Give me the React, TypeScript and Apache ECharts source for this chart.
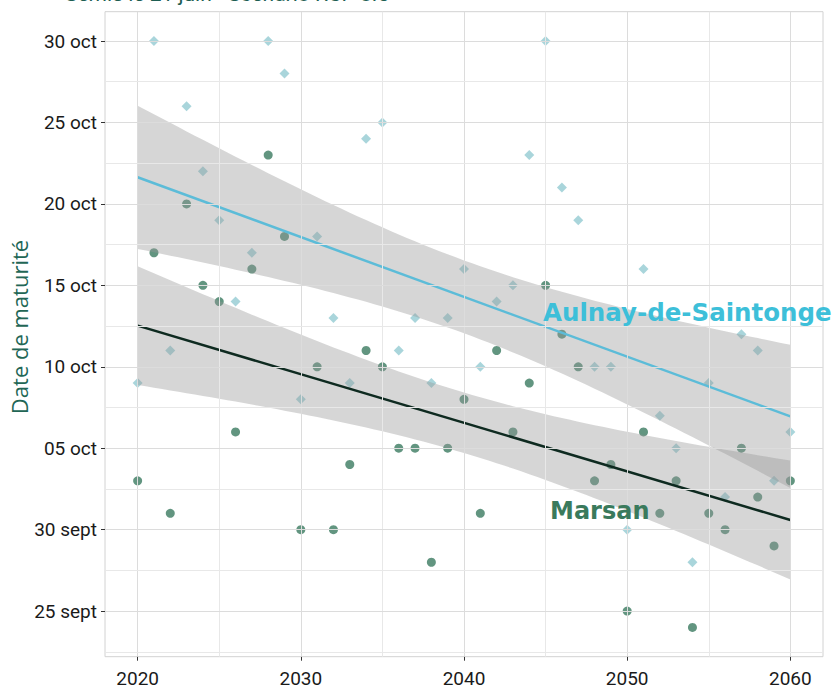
import React, { useEffect, useRef } from "react";
import * as echarts from "echarts";

const years = [
  2020, 2021, 2022, 2023, 2024, 2025, 2026, 2027, 2028, 2029,
  2030, 2031, 2032, 2033, 2034, 2035, 2036, 2037, 2038, 2039,
  2040, 2041, 2042, 2043, 2044, 2045, 2046, 2047, 2048, 2049,
  2050, 2051, 2052, 2053, 2054, 2055, 2056, 2057, 2058, 2059,
  2060,
];

// day number counted from 1 September (30 = 30 sept, 35 = 05 oct, ...)
const aulnay = [
  39, 60, 41, 56, 52, 49, 44, 47, 60, 58,
  38, 48, 43, 39, 54, 55, 41, 43, 39, 43,
  46, 40, 44, 45, 53, 60, 51, 49, 40, 40,
  30, 46, 37, 35, 28, 39, 32, 42, 41, 33,
  36,
];

const marsan = [
  33, 47, 31, 50, 45, 44, 36, 46, 53, 48,
  30, 40, 30, 34, 41, 40, 35, 35, 28, 35,
  38, 31, 41, 36, 39, 45, 42, 40, 33, 34,
  25, 36, 31, 33, 24, 31, 30, 35, 32, 29,
  33,
];

const yTicks = [25, 30, 35, 40, 45, 50, 55, 60];
const yTickLabels = ["25 sept", "30 sept", "05 oct", "10 oct", "15 oct", "20 oct", "25 oct", "30 oct"];
const yMinor = [22.5, 27.5, 32.5, 37.5, 42.5, 47.5, 52.5, 57.5];
const xTicks = [2020, 2030, 2040, 2050, 2060];
const xMinor = [2025, 2035, 2045, 2055];

const T_975 = 2.0227; // Student t quantile, 39 df (95% CI, like geom_smooth)

function linearFit(xs: number[], ys: number[]) {
  const n = xs.length;
  const mx = xs.reduce((a, b) => a + b, 0) / n;
  const my = ys.reduce((a, b) => a + b, 0) / n;
  let sxx = 0;
  let sxy = 0;
  for (let i = 0; i < n; i++) {
    sxx += (xs[i] - mx) * (xs[i] - mx);
    sxy += (xs[i] - mx) * (ys[i] - my);
  }
  const b = sxy / sxx;
  const a = my - b * mx;
  let sse = 0;
  for (let i = 0; i < n; i++) {
    const r = ys[i] - (a + b * xs[i]);
    sse += r * r;
  }
  const s = Math.sqrt(sse / (n - 2));
  const x0 = Math.min(...xs);
  const x1 = Math.max(...xs);
  const upper: number[][] = [];
  const lower: number[][] = [];
  const steps = 80;
  for (let k = 0; k <= steps; k++) {
    const x = x0 + ((x1 - x0) * k) / steps;
    const yh = a + b * x;
    const hw = T_975 * s * Math.sqrt(1 / n + ((x - mx) * (x - mx)) / sxx);
    upper.push([x, yh + hw]);
    lower.push([x, yh - hw]);
  }
  return {
    line: [
      [x0, a + b * x0],
      [x1, a + b * x1],
    ],
    upper,
    lower,
  };
}

const fitA = linearFit(years, aulnay);
const fitM = linearFit(years, marsan);

function bandSeries(fit: { upper: number[][]; lower: number[][] }) {
  return {
    type: "custom",
    z: 2,
    silent: true,
    data: [[2040, 40]],
    renderItem: (_params: any, api: any) => {
      const pts = fit.upper
        .map((p) => api.coord(p))
        .concat(fit.lower.slice().reverse().map((p) => api.coord(p)));
      return {
        type: "polygon",
        shape: { points: pts },
        style: { fill: "rgba(153,153,153,0.4)" },
        silent: true,
      };
    },
  };
}

const FONT = "Roboto";

export default function App() {
  const ref = useRef<HTMLDivElement>(null);

  useEffect(() => {
    if (!ref.current) return;
    const chart = echarts.init(ref.current, undefined, { renderer: "svg" });

    const gridLines = [
      ...xTicks.map((x) => ({ xAxis: x, lineStyle: { color: "#dcdcdc", width: 1, type: "solid" } })),
      ...xMinor.map((x) => ({ xAxis: x, lineStyle: { color: "#e8e8e8", width: 1, type: "solid" } })),
      ...yTicks.map((y) => ({ yAxis: y, lineStyle: { color: "#dcdcdc", width: 1, type: "solid" } })),
      ...yMinor.map((y) => ({ yAxis: y, lineStyle: { color: "#e8e8e8", width: 1, type: "solid" } })),
    ];

    const option: any = {
      animation: false,
      grid: {
        left: 105,
        top: 11.7,
        width: 718,
        height: 645,
        show: true,
        borderColor: "#d2d2d2",
        borderWidth: 1,
        backgroundColor: "transparent",
      },
      xAxis: {
        type: "value",
        min: 2018,
        max: 2062,
        splitLine: { show: false },
        axisLine: { show: false },
        axisTick: { show: true, customValues: xTicks, length: 4, lineStyle: { color: "#333" } },
        axisLabel: {
          customValues: xTicks,
          color: "#1a1a1a",
          fontFamily: FONT,
          fontSize: 19,
          margin: 12,
          formatter: (v: number) => String(v),
        },
      },
      yAxis: {
        type: "value",
        min: 22.2,
        max: 61.8,
        splitLine: { show: false },
        axisLine: { show: false },
        axisTick: { show: true, customValues: yTicks, length: 4, lineStyle: { color: "#333" } },
        axisLabel: {
          customValues: yTicks,
          color: "#1a1a1a",
          fontFamily: FONT,
          fontSize: 19,
          margin: 8,
          formatter: (v: number) => {
            const i = yTicks.indexOf(Math.round(v));
            return i >= 0 ? yTickLabels[i] : "";
          },
        },
      },
      graphic: [
        {
          type: "text",
          x: 65,
          y: 4,
          style: {
            text: "Semis le 21 juin - Scénario RCP 8.5",
            fill: "#1d5e52",
            fontFamily: FONT,
            fontSize: 21,
            verticalAlign: "bottom",
          },
        },
        {
          type: "text",
          x: 19,
          y: 327,
          rotation: Math.PI / 2,
          style: {
            text: "Date de maturité",
            fill: "#226655",
            fontFamily: "Open Sans",
            fontSize: 22,
            align: "center",
            verticalAlign: "middle",
          },
        },
        {
          type: "text",
          x: 543,
          y: 312,
          z: 10,
          style: {
            text: "Aulnay-de-Saintonge",
            fill: "#3dbfd9",
            fontFamily: "DejaVu Sans",
            fontWeight: "bold",
            fontSize: 24.5,
            verticalAlign: "middle",
          },
        },
        {
          type: "text",
          x: 550,
          y: 511,
          z: 10,
          style: {
            text: "Marsan",
            fill: "#3a7a5c",
            fontFamily: "DejaVu Sans",
            fontWeight: "bold",
            fontSize: 24,
            verticalAlign: "middle",
          },
        },
      ],
      series: [
        {
          type: "scatter",
          z: 0,
          silent: true,
          data: [[2040, 40]],
          symbolSize: 0,
          itemStyle: { opacity: 0 },
          markLine: {
            silent: true,
            symbol: ["none", "none"],
            label: { show: false },
            animation: false,
            data: gridLines,
          },
        },
        {
          name: "Aulnay-de-Saintonge",
          type: "scatter",
          z: 1,
          symbol: "diamond",
          symbolSize: 10,
          itemStyle: { color: "#93cbd2" },
          data: years.map((y, i) => [y, aulnay[i]]),
        },
        {
          name: "Marsan",
          type: "scatter",
          z: 1,
          symbol: "circle",
          symbolSize: 9,
          itemStyle: { color: "#3b7a60" },
          data: years.map((y, i) => [y, marsan[i]]),
        },
        bandSeries(fitA),
        bandSeries(fitM),
        {
          type: "line",
          z: 3,
          silent: true,
          showSymbol: false,
          data: fitA.line,
          lineStyle: { color: "#5cbcd8", width: 2.5 },
        },
        {
          type: "line",
          z: 3,
          silent: true,
          showSymbol: false,
          data: fitM.line,
          lineStyle: { color: "#0e2a20", width: 2.5 },
        },
      ],
    };

    chart.setOption(option);
    return () => chart.dispose();
  }, []);

  return (
    <div
      ref={ref}
      style={{ position: "absolute", left: 0, top: 0, width: 835, height: 690 }}
    />
  );
}
